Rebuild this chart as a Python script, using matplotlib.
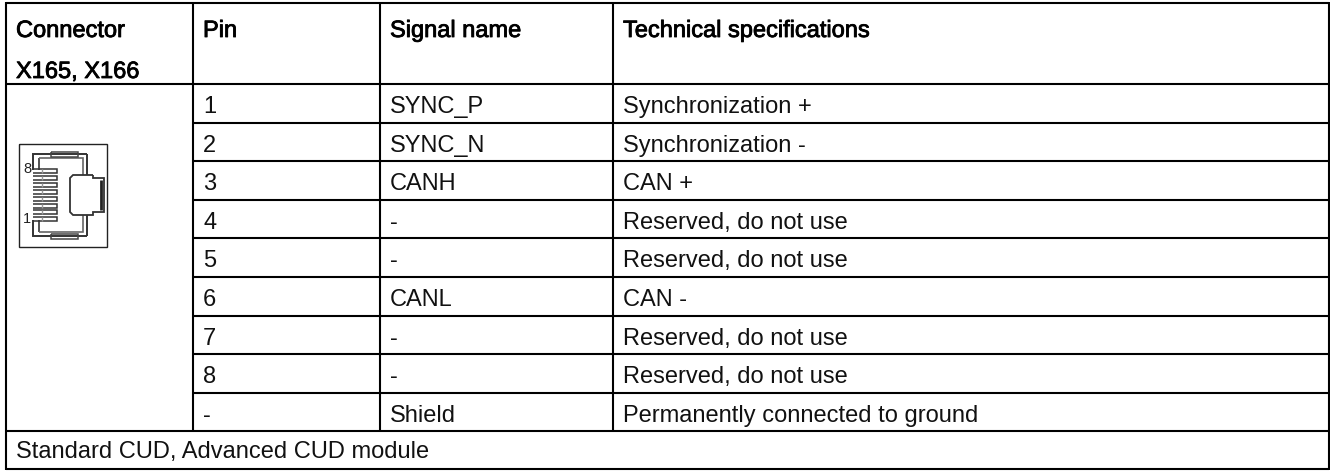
import matplotlib
matplotlib.use('Agg')
import matplotlib.pyplot as plt
import matplotlib.patheffects as pe

plt.rcParams['font.family'] = ['Liberation Sans', 'DejaVu Sans']

headers = ['Connector\nX165, X166', 'Pin', 'Signal name', 'Technical specifications']
pins = ['1', '2', '3', '4', '5', '6', '7', '8', '-']
signals = ['SYNC_P', 'SYNC_N', 'CANH', '-', '-', 'CANL', '-', '-', 'Shield']
specs = ['Synchronization +', 'Synchronization -', 'CAN +', 'Reserved, do not use',
         'Reserved, do not use', 'CAN -', 'Reserved, do not use', 'Reserved, do not use',
         'Permanently connected to ground']
footer = 'Standard CUD, Advanced CUD module'

# layout in pixels
col_x = [6, 193, 380, 613, 1329]
top = 3
head_bot = 84
row_h = 38.6
body_bot = head_bot + row_h*len(pins)
bottom = 469
fs = 17


def line(xs, ys, lw=2.0, c='k'):
    ax.plot(xs, ys, color=c, lw=lw, solid_capstyle='butt', solid_joinstyle='miter')


fig = plt.figure(figsize=(13.3, 4.71), dpi=100)
ax = fig.add_axes([0, 0, 1, 1])
ax.set_xlim(0, 1330)
ax.set_ylim(471, 0)
ax.axis('off')

# grid
lw = 1.5
line([col_x[0], col_x[4]], [top, top], lw)
line([col_x[0], col_x[4]], [head_bot, head_bot], lw)
line([col_x[0], col_x[4]], [body_bot, body_bot], lw)
line([col_x[0], col_x[4]], [bottom, bottom], lw)
line([col_x[0], col_x[0]], [top-1, bottom+1], lw)
line([col_x[4], col_x[4]], [top-1, bottom+1], lw)
for x in col_x[1:4]:
    line([x, x], [top, body_bot], lw)
for i in range(1, len(pins)):
    y = head_bot + i*row_h
    line([col_x[1], col_x[4]], [y, y], lw)

# header text, original looks faux bold
bold = [pe.withStroke(linewidth=0.6, foreground='k')]
name_l1, name_l2 = headers[0].split('\n')
ax.text(col_x[0]+10, 37, name_l1, fontsize=fs, color='k', path_effects=bold)
ax.text(col_x[0]+10, 78, name_l2, fontsize=fs, color='k', path_effects=bold)
for x, h in zip(col_x[1:4], headers[1:]):
    ax.text(x+10, 37, h, fontsize=fs, color='k', path_effects=bold)

# table body
for i in range(len(pins)):
    y = head_bot + i*row_h + 29
    ax.text(col_x[1]+10, y, pins[i], fontsize=fs, color='#111111')
    ax.text(col_x[2]+10, y, signals[i], fontsize=fs, color='#111111')
    ax.text(col_x[3]+10, y, specs[i], fontsize=fs, color='#111111')
ax.text(col_x[0]+10, 458, footer, fontsize=fs, color='#111111')

# connector icon
g = '#333333'
line([18.5, 107, 107, 18.5, 18.5], [143.5, 143.5, 246.5, 246.5, 143.5], 1.0, '#222222')
# housing outer/inner
line([87, 33, 33], [154, 154, 170], 1.4, g)
line([33, 33, 87], [220, 236, 236], 1.4, g)
line([87, 87], [154, 175], 1.4, g)
line([87, 87], [215, 236], 1.4, g)
line([39, 39], [158, 170], 1.2, g)
line([39, 39], [220, 232], 1.2, g)
line([39, 83, 83], [158, 158, 175], 1.2, '#666666')
line([39, 83, 83], [232, 232, 215], 1.2, '#666666')
# top and bottom latches
for yy in (154, 236):
    line([51, 78, 78, 51, 51], [yy-2.5, yy-2.5, yy+2.5, yy+2.5, yy-2.5], 1.1, '#444444')
# pins
for k in range(8):
    y = 171 + k*6.9
    line([33, 57, 57, 33], [y-2, y-2, y+2, y+2], 1.1, '#333333')
    line([42, 42], [y-2, y+2], 1.0, '#999999')
# tab on the right
line([93, 73, 70, 70, 73, 93, 93, 104, 104, 93, 93],
     [175, 175, 178, 212, 215, 215, 212, 212, 178, 178, 175], 1.3, g)
line([101, 101], [180, 210], 2.0, '#222222')
ax.text(23, 173, '8', fontsize=10.5, color='#222222')
ax.text(23, 223, '1', fontsize=10.5, color='#222222')

fig.savefig('out.png', dpi=100)
